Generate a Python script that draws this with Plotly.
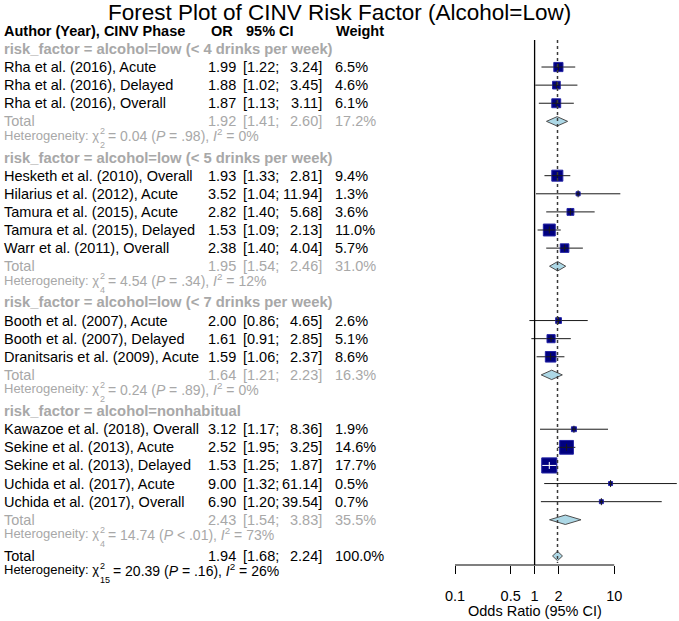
import numpy as np
import plotly.graph_objects as go

# ---------------- data ----------------
title = "Forest Plot of CINV Risk Factor (Alcohol=Low)"
header_author = "Author (Year), CINV Phase"
header_or = "OR"
header_ci = "95% CI"
header_w = "Weight"
x_title = "Odds Ratio (95% CI)"

group_labels = [
    "risk_factor = alcohol=low (&lt; 4 drinks per week)",
    "risk_factor = alcohol=low (&lt; 5 drinks per week)",
    "risk_factor = alcohol=low (&lt; 7 drinks per week)",
    "risk_factor = alcohol=nonhabitual",
]
study_group = [0, 0, 0, 1, 1, 1, 1, 1, 2, 2, 2, 3, 3, 3, 3, 3]
studies = [
    "Rha et al. (2016), Acute", "Rha et al. (2016), Delayed", "Rha et al. (2016), Overall",
    "Hesketh et al. (2010), Overall", "Hilarius et al. (2012), Acute", "Tamura et al. (2015), Acute",
    "Tamura et al. (2015), Delayed", "Warr et al. (2011), Overall",
    "Booth et al. (2007), Acute", "Booth et al. (2007), Delayed", "Dranitsaris et al. (2009), Acute",
    "Kawazoe et al. (2018), Overall", "Sekine et al. (2013), Acute", "Sekine et al. (2013), Delayed",
    "Uchida et al. (2017), Acute", "Uchida et al. (2017), Overall",
]
study_or = [1.99, 1.88, 1.87, 1.93, 3.52, 2.82, 1.53, 2.38, 2.00, 1.61, 1.59, 3.12, 2.52, 1.53, 9.00, 6.90]
study_lo = [1.22, 1.02, 1.13, 1.33, 1.04, 1.40, 1.09, 1.40, 0.86, 0.91, 1.06, 1.17, 1.95, 1.25, 1.32, 1.20]
study_hi = [3.24, 3.45, 3.11, 2.81, 11.94, 5.68, 2.13, 4.04, 4.65, 2.85, 2.37, 8.36, 3.25, 1.87, 61.14, 39.54]
study_w = [6.5, 4.6, 6.1, 9.4, 1.3, 3.6, 11.0, 5.7, 2.6, 5.1, 8.6, 1.9, 14.6, 17.7, 0.5, 0.7]

group_or = [1.92, 1.95, 1.64, 2.43]
group_lo = [1.41, 1.54, 1.21, 1.54]
group_hi = [2.60, 2.46, 2.23, 3.83]
group_w = [17.2, 31.0, 16.3, 35.5]
group_het_df = ["2", "4", "2", "4"]
group_het_q = ["0.04", "4.54", "0.24", "14.74"]
group_het_p = ["= .98", "= .34", "= .89", "&lt; .01"]
group_het_i2 = ["0%", "12%", "0%", "73%"]

overall_or, overall_lo, overall_hi, overall_w = 1.94, 1.68, 2.24, 100.0
overall_het_df, overall_het_q, overall_het_p, overall_het_i2 = "15", "20.39", "= .16", "26%"

tick_vals = [0.1, 0.5, 1, 2, 10]
tick_text = ["0.1", "0.5", "1", "2", "10"]

# ---------------- layout constants ----------------
W, H = 679, 621
FONT = "Liberation Sans, Arial, sans-serif"
GRAY = "#A8A8A8"
SQ_FILL = "#000080"
SQ_EDGE = "#2626A6"
DIA_FILL = "#ADD8E6"
ROW0, ROWH = 30.8, 18.11
X_AUTHOR, X_OR_R, X_CI_L, X_CI_R, X_W = 3, 237, 242, 323, 334
PLOT_L, PLOT_B, PLOT_T_LINE = 440, 565, 40
X_TICK_LO, PX_DEC = 455, 79.6
FS, FS_HET, FS_HET_REST, FS_SCRIPT = 14.5, 13, 14, 9


def fx(p):
    return p / W


def fy(p):
    return 1 - p / H


def row_px(r):
    return ROW0 + ROWH * r


# ---------------- row assignment ----------------
study_rows = [None] * len(studies)
label_rows, total_rows, het_rows = [], [], []
r = 1
for g in range(len(group_labels)):
    label_rows.append(r)
    r += 1
    for i, sg in enumerate(study_group):
        if sg == g:
            study_rows[i] = r
            r += 1
    total_rows.append(r)
    r += 1
    het_rows.append(r)
    r += 1
overall_row = r
overall_het_row = r + 1

# ---------------- annotations ----------------
ann = []


def txt(x, y, s, anchor="left", size=FS, color="black"):
    ann.append(dict(text=s, x=fx(x), y=fy(y), xref="paper", yref="paper",
                    xanchor=anchor, yanchor="middle", showarrow=False, borderpad=0,
                    font=dict(family=FONT, size=size, color=color)))


def result_row(rr, label, est, lo, hi, w, color, bold=False):
    y = row_px(rr)
    lab = f"<b>{label}</b>" if bold else label
    txt(X_AUTHOR, y, lab, color=color)
    txt(X_OR_R, y, f"{est:.2f}", anchor="right", color=color)
    txt(X_CI_L, y, f"[{lo:.2f};", color=color)
    txt(X_CI_R, y, f"{hi:.2f}]", anchor="right", color=color)
    txt(X_W, y, f"{w:.1f}%", color=color)


def het_row(rr, df, q, p, i2, color):
    y = row_px(rr)
    txt(X_AUTHOR, y - 4.3, "Heterogeneity: χ", size=FS_HET, color=color)
    txt(99, y + 5.8, df, size=FS_SCRIPT, color=color)
    txt(99, y - 8.0, "2", size=FS_SCRIPT, color=color)
    x_rest = 99 + 5 * len(df) + 2.5
    txt(x_rest, y - 4.3, f"= {q} (<i>P</i> {p}), <i>I</i><sup>2</sup> = {i2}",
        size=FS_HET_REST, color=color)


# title + header
txt(W / 2, 12.5, title, anchor="center", size=22.5)
y0 = row_px(0)
txt(X_AUTHOR, y0, f"<b>{header_author}</b>")
txt(210, y0, f"<b>{header_or}</b>")
txt(245, y0, f"<b>{header_ci}</b>")
txt(335, y0, f"<b>{header_w}</b>")

for g in range(len(group_labels)):
    txt(X_AUTHOR, row_px(label_rows[g]), f"<b>{group_labels[g]}</b>", size=14.8, color=GRAY)
    result_row(total_rows[g], "Total", group_or[g], group_lo[g], group_hi[g], group_w[g], GRAY)
    het_row(het_rows[g], group_het_df[g], group_het_q[g], group_het_p[g], group_het_i2[g], GRAY)
for i, s in enumerate(studies):
    result_row(study_rows[i], s, study_or[i], study_lo[i], study_hi[i], study_w[i], "black")
result_row(overall_row, "Total", overall_or, overall_lo, overall_hi, overall_w, "black")
het_row(overall_het_row, overall_het_df, overall_het_q, overall_het_p, overall_het_i2, "black")

# x-axis title (centred at OR = 1, log10(1) = 0)
ann.append(dict(text=x_title, x=np.log10(1), y=fy(611), xref="x", yref="paper",
                xanchor="center", yanchor="middle", showarrow=False, borderpad=0,
                font=dict(family=FONT, size=FS, color="black")))

# ---------------- traces ----------------
fig = go.Figure()

sizes = [max(4.0, 3.6 * np.sqrt(w)) for w in study_w]
ci_px = [(np.log10(h) - np.log10(l)) * PX_DEC for l, h in zip(study_lo, study_hi)]
inside = [c < s for c, s in zip(ci_px, sizes)]
LINE_DARK = "#1A1A1A"

# CI lines drawn under the squares
xs, ys = [], []
for i in range(len(studies)):
    xs += [study_lo[i], study_hi[i], None]
    ys += [study_rows[i], study_rows[i], None]
fig.add_trace(go.Scatter(x=xs, y=ys, mode="lines", hoverinfo="skip",
                         line=dict(color=LINE_DARK, width=1)))

# squares
fig.add_trace(go.Scatter(
    x=study_or, y=study_rows, mode="markers", hoverinfo="skip", opacity=1,
    marker=dict(symbol="square", size=sizes, color=SQ_FILL, opacity=1,
                line=dict(color=SQ_EDGE, width=1))))

# line across the square (white where the CI lies within the square)
xs, ys, cols = [], [], []
for i in range(len(studies)):
    half = sizes[i] / 2 / PX_DEC
    a = max(study_lo[i], study_or[i] / 10 ** half)
    b = min(study_hi[i], study_or[i] * 10 ** half)
    xs += [a, b, None]
    ys += [study_rows[i], study_rows[i], None]
    cols.append("white" if inside[i] else LINE_DARK)
for col in ["white", LINE_DARK]:
    sx, sy = [], []
    for i in range(len(studies)):
        if cols[i] == col:
            sx += xs[3 * i:3 * i + 3]
            sy += ys[3 * i:3 * i + 3]
    if sx:
        fig.add_trace(go.Scatter(x=sx, y=sy, mode="lines", hoverinfo="skip",
                                 line=dict(color=col, width=1)))
fig.add_trace(go.Scatter(
    x=study_or, y=study_rows, mode="markers", hoverinfo="skip",
    marker=dict(symbol="line-ns", size=5, color=cols, line=dict(color=cols, width=1))))

# diamonds
DH = 0.26
for est, lo, hi, rr in list(zip(group_or, group_lo, group_hi, total_rows)) + \
        [(overall_or, overall_lo, overall_hi, overall_row)]:
    fig.add_trace(go.Scatter(x=[lo, est, hi, est, lo], y=[rr, rr - DH, rr, rr + DH, rr],
                             mode="lines", fill="toself", fillcolor=DIA_FILL,
                             hoverinfo="skip", line=dict(color="#4D4D4D", width=1)))

# ---------------- shapes ----------------
shapes = [
    dict(type="line", xref="x", yref="paper", x0=1, x1=1, y0=fy(PLOT_T_LINE), y1=fy(PLOT_B),
         line=dict(color="black", width=1.3)),
    dict(type="line", xref="x", yref="paper", x0=overall_or, x1=overall_or,
         y0=fy(PLOT_T_LINE), y1=fy(PLOT_B - 2), line=dict(color="#3A3A3A", width=1.5, dash="dot")),
    dict(type="line", xref="x", yref="paper", x0=min(tick_vals), x1=max(tick_vals),
         y0=fy(PLOT_B), y1=fy(PLOT_B), line=dict(color="black", width=1.2)),
]

x_lo = -1 - (X_TICK_LO - PLOT_L) / PX_DEC
x_hi = -1 + (W - X_TICK_LO) / PX_DEC

fig.update_layout(
    width=W, height=H, margin=dict(l=0, r=0, t=0, b=0),
    paper_bgcolor="white", plot_bgcolor="white", showlegend=False,
    annotations=ann, shapes=shapes,
    xaxis=dict(type="log", domain=[fx(PLOT_L), 1], range=[x_lo, x_hi],
               tickvals=tick_vals, ticktext=tick_text, ticks="outside", ticklen=8,
               tickwidth=1.2, tickcolor="black", showline=False, showgrid=False, zeroline=False,
               ticklabelstandoff=10,
               tickfont=dict(family=FONT, size=FS, color="black")),
    yaxis=dict(domain=[fy(PLOT_B), 1], range=[(PLOT_B - ROW0) / ROWH, -ROW0 / ROWH],
               visible=False, showgrid=False, zeroline=False),
)

fig.write_html("out.html", config={"displayModeBar": False},
               post_script="document.body.style.margin='0';")
